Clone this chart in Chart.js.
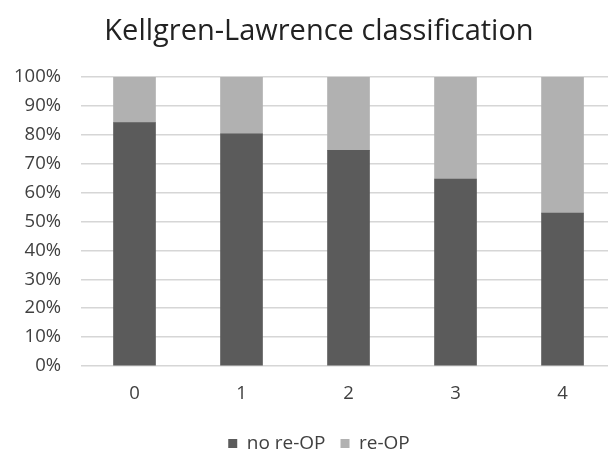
<!DOCTYPE html>
<html>
<head>
<meta charset="utf-8">
<script src="https://cdn.jsdelivr.net/npm/chart.js@4/dist/chart.umd.min.js"></script>
<style>
  html, body { margin: 0; padding: 0; background: #ffffff; }
  canvas { display: block; }
</style>
</head>
<body>
<canvas id="kl" width="608" height="450"></canvas>
<script>
// Kellgren-Lawrence grade and share of knees with / without re-operation (%)
const grades = [0, 1, 2, 3, 4];
const noReOp = [84.2, 80.3, 74.6, 64.7, 52.9];
const reOp = [15.8, 19.7, 25.4, 35.3, 47.1];
const percentTicks = [0, 10, 20, 30, 40, 50, 60, 70, 80, 90, 100];

const FONT = '"Open Sans", "DejaVu Sans", sans-serif';

const toPoints = (vals) => grades.map((g, i) => ({ x: g, y: vals[i] }));

new Chart(document.getElementById('kl'), {
  type: 'bar',
  data: {
    datasets: [
      {
        label: 'no re-OP',
        data: toPoints(noReOp),
        backgroundColor: '#5b5b5b',
        barThickness: 42
      },
      {
        label: 're-OP',
        data: toPoints(reOp),
        backgroundColor: '#b1b1b1',
        barThickness: 42
      }
    ]
  },
  options: {
    responsive: false,
    animation: false,
    // title and legend are centred a little right of the canvas middle
    layout: { padding: { left: 0, right: -30, top: 0, bottom: -13 } },
    plugins: {
      title: {
        display: true,
        text: 'Kellgren-Lawrence classification',
        color: '#222222',
        font: { family: FONT, size: 29, weight: 'normal' },
        padding: { top: 14, bottom: 28.2 }
      },
      legend: {
        position: 'bottom',
        labels: {
          boxWidth: 9,
          boxHeight: 9,
          padding: 15,
          color: '#404040',
          font: { family: FONT, size: 19 }
        }
      },
      tooltip: { enabled: false }
    },
    scales: {
      x: {
        type: 'linear',
        stacked: true,
        offset: false,
        min: -0.5,
        max: 4.425,
        grid: { display: false, drawTicks: false },
        border: { display: false },
        afterBuildTicks: (scale) => { scale.ticks = grades.map(v => ({ value: v })); },
        afterFit: (scale) => { scale.height = 53; },
        ticks: {
          padding: 17,
          color: '#404040',
          font: { family: FONT, size: 18.5 },
          callback: (v) => String(v)
        }
      },
      y: {
        stacked: true,
        min: 0,
        max: 100,
        afterBuildTicks: (scale) => { scale.ticks = percentTicks.map(v => ({ value: v })); },
        afterFit: (scale) => { scale.width = 81; },
        grid: { color: '#d6d6d6', lineWidth: 1.5, drawTicks: false },
        border: { display: false },
        ticks: {
          padding: 20,
          color: '#404040',
          font: { family: FONT, size: 18.5 },
          callback: (v) => v + '%'
        }
      }
    }
  }
});
</script>
</body>
</html>
